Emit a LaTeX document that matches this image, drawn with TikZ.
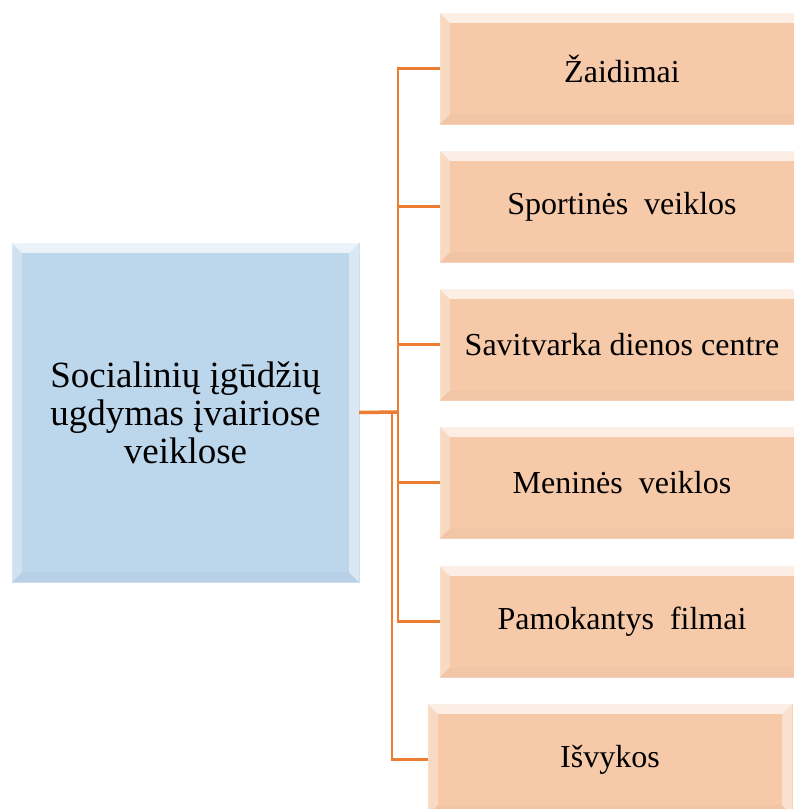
\documentclass[tikz,border=0pt]{standalone}
\usepackage{fontspec}
\setmainfont{Liberation Serif}
\usepackage{tikz}
\usetikzlibrary{positioning, calc}
\definecolor{peachfill}{RGB}{246, 201, 169}
\definecolor{skyfill}{RGB}{188, 214, 236}
\definecolor{linkorange}{RGB}{237, 125, 49}

\begin{document}
\begin{tikzpicture}[
    x=1pt, y=-1pt,
    mainbox/.style={rectangle, fill=skyfill, draw=skyfill!80!white, minimum width=347pt, minimum height=339pt, align=center, inner sep=0pt, font=\fontsize{37}{38}\selectfont},
    itembox/.style={rectangle, fill=peachfill, draw=peachfill!85!white, minimum width=364pt, minimum height=111pt, align=center, inner sep=0pt, font=\fontsize{32}{36}\selectfont},
    link/.style={draw=linkorange, line width=2.2pt}
]
    \clip (0,0) rectangle (794,809);
    \fill[white] (0,0) rectangle (794,809);

    % Main topic
    \node[mainbox] (main) at (185.5, 412.5) {Socialinių įgūdžių\\ugdymas įvairiose\\veiklose};

    % Activities
    \node[itembox] (v1) at (622, 68.5) {Žaidimai};
    \node[itembox] (v2) at (622, 206.5) {Sportinės\ \ veiklos};
    \node[itembox] (v3) at (622, 344.5) {Savitvarka dienos centre};
    \node[itembox] (v4) at (622, 482.5) {Meninės\ \ veiklos};
    \node[itembox] (v5) at (622, 621.5) {Pamokantys\ \ filmai};
    \node[itembox] (v6) at (610, 759.5) {Išvykos};

    % Bevels
    \foreach \n in {main, v1, v2, v3, v4, v5, v6} {
        \fill[white, opacity=0.7] (\n.north west) -- (\n.north east) -- ($(\n.north east)+(-10,10)$) -- ($(\n.north west)+(10,10)$) -- cycle;
        \fill[white, opacity=0.3] (\n.north west) -- ($(\n.north west)+(10,10)$) -- ($(\n.south west)+(10,-10)$) -- (\n.south west) -- cycle;
        \fill[white, opacity=0.45] (\n.north east) -- ($(\n.north east)+(-10,10)$) -- ($(\n.south east)+(-10,-10)$) -- (\n.south east) -- cycle;
        \fill[black, opacity=0.02] (\n.south west) -- ($(\n.south west)+(10,-10)$) -- ($(\n.south east)+(-10,-10)$) -- (\n.south east) -- cycle;
    }

    % Connectors
    \coordinate (hub) at (398, 412);
    \coordinate (hubb) at (392, 412);
    \draw[link, line width=3.5pt] (main.east) -- (hub);
    \foreach \i in {1,...,5}
        \draw[link] (hub) |- (v\i.west);
    \draw[link] (hubb) |- (v6.west);
\end{tikzpicture}
\end{document}
